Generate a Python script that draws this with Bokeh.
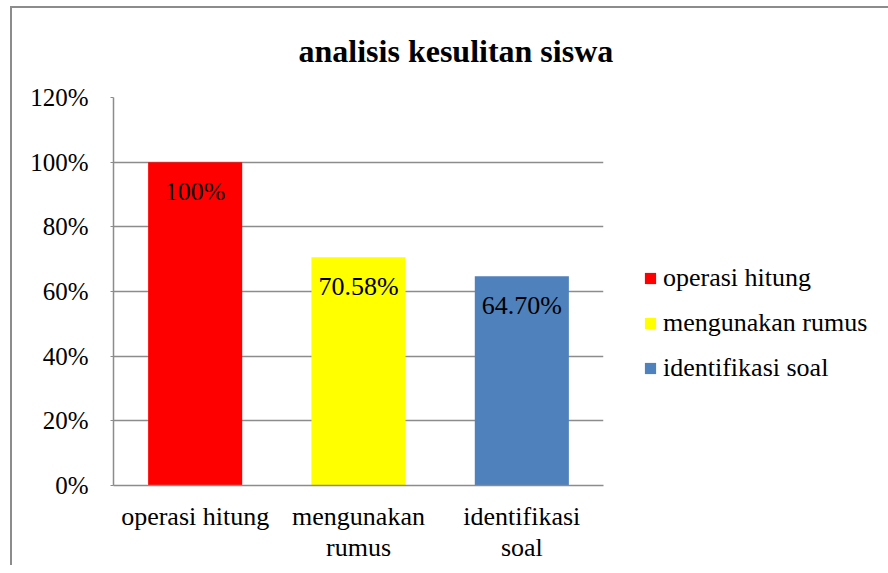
from bokeh.plotting import figure
from bokeh.models import ColumnDataSource, FactorRange, Range1d, NumeralTickFormatter, FixedTicker, Legend, LegendItem
from bokeh.embed import file_html
from bokeh.resources import INLINE

categories = ["operasi hitung", "mengunakan\nrumus", "identifikasi\nsoal"]
legend_labels = ["operasi hitung", "mengunakan rumus", "identifikasi soal"]
values = [1.0, 0.7058, 0.6470]
value_labels = ["100%", "70.58%", "64.70%"]
colors = ["#FF0000", "#FFFF00", "#4F81BD"]
y_ticks = [0, 0.2, 0.4, 0.6, 0.8, 1.0, 1.2]

FONT = "Liberation Serif"
GRID = "#8c8c8c"

src = ColumnDataSource(dict(cat=categories, val=values, lab=value_labels, col=colors))

p = figure(frame_width=490, frame_height=388, x_range=FactorRange(*categories), y_range=Range1d(0, 1.2),
           output_backend="svg", toolbar_location=None,
           min_border_left=113, min_border_right=285, min_border_top=97, min_border_bottom=78)
p.styles = {"background": "linear-gradient(#8c8c8c,#8c8c8c) 10px 6px / 2px 100% no-repeat, "
                          "linear-gradient(#8c8c8c,#8c8c8c) 10px 6px / 100% 2px no-repeat, #ffffff"}
p.outline_line_color = None
p.background_fill_color = "white"
p.border_fill_alpha = 0

r = p.vbar(x="cat", top="val", width=0.576, color="col", source=src, line_color=None)
p.text(x="cat", y="val", text="lab", source=src, text_align="center", text_baseline="middle",
       y_offset=29, text_font_size="26px", text_font={"value": FONT}, text_color="black")

p.title.text = "analisis kesulitan siswa"
p.title.text_font = FONT
p.title.text_font_size = "32px"
p.title.text_font_style = "bold"
p.title.text_color = "black"
p.title.align = "left"
p.title.offset = 185
p.title.standoff = 57

p.xgrid.grid_line_color = None
p.ygrid.grid_line_color = GRID
p.ygrid.grid_line_width = 1.5
p.ygrid.ticker = FixedTicker(ticks=y_ticks)

p.yaxis.ticker = FixedTicker(ticks=y_ticks)
p.yaxis.formatter = NumeralTickFormatter(format="0%")
p.yaxis.axis_line_color = GRID
p.yaxis.axis_line_width = 1.5
p.yaxis.major_tick_line_color = GRID
p.yaxis.major_tick_in = 0
p.yaxis.major_tick_out = 3
p.yaxis.minor_tick_line_color = None
p.yaxis.major_label_standoff = 22
p.yaxis.major_label_text_font = FONT
p.yaxis.major_label_text_font_size = "25px"
p.yaxis.major_label_text_color = "black"

p.xaxis.axis_line_color = GRID
p.xaxis.axis_line_width = 1.5
p.xaxis.major_tick_line_color = None
p.xaxis.minor_tick_line_color = None
p.xaxis.major_label_standoff = 10
p.xaxis.major_label_text_font = FONT
p.xaxis.major_label_text_font_size = "26px"
p.xaxis.major_label_text_line_height = 1.1
p.xaxis.major_label_text_color = "black"

items = [LegendItem(label=c, renderers=[r], index=i) for i, c in enumerate(legend_labels)]
legend = Legend(items=items, location=(40, 102), padding=0, margin=0,
                border_line_color=None, background_fill_alpha=0,
                glyph_width=14, glyph_height=14, label_standoff=6,
                label_text_font=FONT, label_text_font_size="26px", label_text_color="black",
                spacing=15)
p.add_layout(legend, "right")

open("out.html", "w").write(file_html(p, INLINE))
